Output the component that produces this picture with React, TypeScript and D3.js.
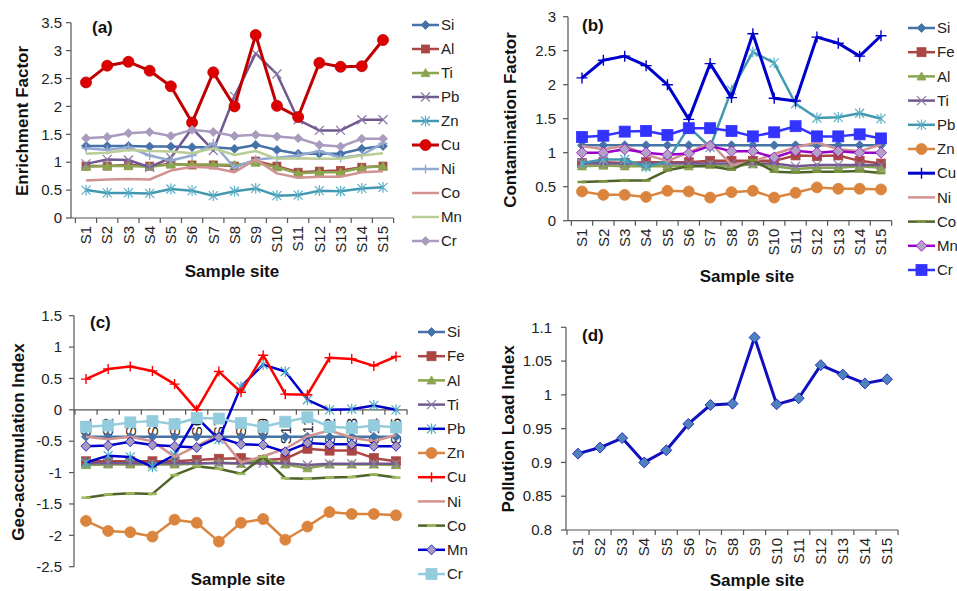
import React from "react";
import * as d3 from "d3";

// sample sites (x categories)
const sites = ["S1", "S2", "S3", "S4", "S5", "S6", "S7", "S8", "S9", "S10", "S11", "S12", "S13", "S14", "S15"];

// (a) Enrichment factor
const efSi = [1.29, 1.29, 1.29, 1.28, 1.28, 1.27, 1.27, 1.24, 1.31, 1.22, 1.15, 1.15, 1.15, 1.24, 1.29];
const efAl = [0.93, 0.93, 0.95, 0.93, 0.97, 0.95, 0.95, 0.93, 1.02, 0.93, 0.82, 0.84, 0.85, 0.91, 0.93];
const efTi = [0.92, 0.93, 0.93, 0.92, 0.96, 0.96, 0.96, 0.95, 0.99, 0.91, 0.8, 0.82, 0.82, 0.9, 0.93];
const efPb = [0.97, 1.05, 1.04, 0.91, 1.08, 1.61, 1.21, 2.18, 2.95, 2.58, 1.76, 1.57, 1.57, 1.76, 1.76];
const efZn = [0.5, 0.45, 0.45, 0.44, 0.52, 0.49, 0.4, 0.48, 0.53, 0.4, 0.41, 0.49, 0.48, 0.53, 0.55];
const efCu = [2.43, 2.73, 2.8, 2.64, 2.36, 1.71, 2.61, 2.0, 3.28, 2.01, 1.81, 2.78, 2.71, 2.72, 3.19];
const efNi = [1.25, 1.22, 1.27, 1.12, 1.03, 1.12, 1.34, 0.9, 1.05, 1.08, 1.12, 1.2, 1.08, 1.13, 1.34];
const efCo = [0.67, 0.69, 0.7, 0.69, 0.85, 0.92, 0.9, 0.82, 1.05, 0.8, 0.72, 0.74, 0.74, 0.82, 0.84];
const efMn = [1.15, 1.17, 1.22, 1.2, 1.19, 1.16, 1.25, 1.13, 1.2, 1.06, 1.07, 1.06, 1.06, 1.12, 1.16];
const efCr = [1.43, 1.45, 1.52, 1.54, 1.47, 1.58, 1.54, 1.47, 1.49, 1.46, 1.43, 1.31, 1.28, 1.42, 1.42];

// (b) Contamination factor
const cfSi = [1.11, 1.11, 1.11, 1.11, 1.11, 1.11, 1.11, 1.11, 1.11, 1.11, 1.11, 1.11, 1.11, 1.11, 1.11];
const cfFe = [0.85, 0.86, 0.85, 0.86, 0.86, 0.86, 0.88, 0.88, 0.88, 0.88, 0.96, 0.95, 0.96, 0.88, 0.84];
const cfAl = [0.8, 0.81, 0.8, 0.8, 0.8, 0.8, 0.82, 0.8, 0.83, 0.8, 0.76, 0.78, 0.78, 0.8, 0.78];
const cfTi = [0.84, 0.84, 0.84, 0.84, 0.84, 0.84, 0.84, 0.84, 0.84, 0.84, 0.8, 0.82, 0.82, 0.82, 0.82];
const cfPb = [0.85, 0.9, 0.9, 0.79, 0.88, 1.38, 1.08, 1.92, 2.48, 2.32, 1.72, 1.51, 1.52, 1.58, 1.5];
const cfZn = [0.43, 0.38, 0.38, 0.35, 0.44, 0.43, 0.34, 0.42, 0.44, 0.34, 0.41, 0.49, 0.47, 0.47, 0.46];
const cfCu = [2.1, 2.36, 2.42, 2.28, 2.0, 1.49, 2.31, 1.81, 2.75, 1.8, 1.76, 2.7, 2.61, 2.42, 2.72];
const cfNi = [1.1, 1.05, 1.1, 0.97, 0.88, 1.0, 1.15, 0.82, 0.87, 0.98, 1.08, 1.15, 1.05, 1.02, 1.12];
const cfCo = [0.57, 0.58, 0.59, 0.59, 0.74, 0.8, 0.8, 0.75, 0.89, 0.72, 0.71, 0.72, 0.72, 0.73, 0.7];
const cfMn = [1.0, 1.0, 1.05, 1.0, 0.97, 0.99, 1.1, 1.02, 1.02, 0.93, 1.03, 1.0, 1.02, 1.0, 1.0];
const cfCr = [1.23, 1.25, 1.31, 1.32, 1.26, 1.36, 1.36, 1.32, 1.24, 1.3, 1.39, 1.24, 1.24, 1.27, 1.21];

// (c) Geo-accumulation index
const igSi = [-0.43, -0.43, -0.43, -0.43, -0.43, -0.43, -0.43, -0.43, -0.43, -0.43, -0.43, -0.43, -0.43, -0.43, -0.43];
const igFe = [-0.82, -0.82, -0.82, -0.82, -0.82, -0.8, -0.78, -0.77, -0.8, -0.78, -0.62, -0.65, -0.65, -0.77, -0.82];
const igAl = [-0.88, -0.87, -0.87, -0.87, -0.87, -0.86, -0.84, -0.86, -0.78, -0.87, -0.93, -0.87, -0.87, -0.87, -0.88];
const igTi = [-0.85, -0.85, -0.85, -0.85, -0.85, -0.85, -0.85, -0.85, -0.85, -0.85, -0.88, -0.86, -0.86, -0.86, -0.86];
const igPb = [-0.84, -0.73, -0.75, -0.91, -0.72, -0.12, -0.47, 0.37, 0.72, 0.61, 0.16, 0.0, 0.01, 0.07, 0.0];
const igZn = [-1.77, -1.93, -1.95, -2.02, -1.75, -1.8, -2.1, -1.8, -1.74, -2.07, -1.86, -1.63, -1.66, -1.66, -1.68];
const igCu = [0.49, 0.65, 0.69, 0.62, 0.41, 0.0, 0.61, 0.28, 0.87, 0.25, 0.24, 0.83, 0.81, 0.7, 0.85];
const igNi = [-0.43, -0.47, -0.43, -0.5, -0.75, -0.58, -0.4, -0.84, -0.74, -0.62, -0.42, -0.33, -0.44, -0.5, -0.4];
const igCo = [-1.4, -1.35, -1.33, -1.34, -1.04, -0.9, -0.94, -1.02, -0.75, -1.09, -1.1, -1.08, -1.07, -1.03, -1.08];
const igMn = [-0.58, -0.57, -0.51, -0.56, -0.58, -0.6, -0.44, -0.55, -0.56, -0.67, -0.53, -0.55, -0.55, -0.58, -0.58];
const igCr = [-0.27, -0.25, -0.2, -0.18, -0.23, -0.13, -0.14, -0.21, -0.27, -0.19, -0.12, -0.27, -0.29, -0.25, -0.28];

// (d) Pollution load index
const pli = [0.913, 0.922, 0.936, 0.9, 0.918, 0.957, 0.985, 0.987, 1.085, 0.986, 0.995, 1.044, 1.03, 1.017, 1.023];

const FONT = "'Liberation Sans', Arial, sans-serif";

type Marker = "diamond" | "square" | "triangle" | "x" | "star" | "circle" | "plus" | "dash" | "none";

interface Series {
  name: string;
  values: number[];
  color: string;
  marker: Marker;
  fill?: string;
  size?: number;
  width?: number;
}

interface PanelCfg {
  tag: string;
  tagX: number;
  tagY: number;
  yTitle: string;
  yTitleX: number;
  yTitleY: number;
  xTitleX: number;
  xTitleY: number;
  axisX: number;
  yTop: number;
  yBot: number;
  domain: [number, number];
  step: number;
  firstX: number;
  lastX: number;
  crossAt: number;
  labelGap: number;
  series: Series[];
  legend?: { x: number; y: number; dy: number };
}

function MarkerShape(props: { type: Marker; x: number; y: number; color: string; fill?: string; size?: number }) {
  const { type, x, y, color } = props;
  const fill = props.fill || color;
  const s = props.size || 4.5;
  const t = `translate(${x},${y})`;
  switch (type) {
    case "diamond":
      return <path transform={t} d={`M0,${-s}L${s},0L0,${s}L${-s},0Z`} fill={fill} stroke={color} strokeWidth={0.8} />;
    case "square":
      return <rect x={x - s} y={y - s} width={2 * s} height={2 * s} fill={fill} stroke={color} strokeWidth={0.8} />;
    case "triangle":
      return <path transform={t} d={`M0,${-s}L${s},${s * 0.8}L${-s},${s * 0.8}Z`} fill={fill} stroke={color} strokeWidth={0.8} />;
    case "circle":
      return <circle cx={x} cy={y} r={s} fill={fill} stroke={color} strokeWidth={0.8} />;
    case "x":
      return <path transform={t} d={`M${-s},${-s}L${s},${s}M${-s},${s}L${s},${-s}`} stroke={fill} strokeWidth={1.2} fill="none" />;
    case "star":
      return <path transform={t} d={`M${-s},${-s}L${s},${s}M${-s},${s}L${s},${-s}M0,${-s * 1.2}L0,${s * 1.2}`} stroke={fill} strokeWidth={1.2} fill="none" />;
    case "plus":
      return <path transform={t} d={`M${-s},0L${s},0M0,${-s}L0,${s}`} stroke={fill} strokeWidth={1.4} fill="none" />;
    case "dash":
      return <path transform={t} d={`M${-s},0L${s},0`} stroke={fill} strokeWidth={2.5} fill="none" />;
    default:
      return null;
  }
}

function Panel({ cfg }: { cfg: PanelCfg }) {
  const x = d3.scalePoint<string>().domain(sites).range([cfg.firstX, cfg.lastX]);
  const y = d3.scaleLinear().domain(cfg.domain).range([cfg.yBot, cfg.yTop]);
  const half = x.step() / 2;
  const n = Math.round((cfg.domain[1] - cfg.domain[0]) / cfg.step);
  const ticks = d3.range(n + 1).map((i) => +(cfg.domain[0] + i * cfg.step).toFixed(3));
  const axisY = y(cfg.crossAt);
  const right = cfg.lastX + half;
  const bounds = sites.map((s) => (x(s) as number) + half);
  bounds.unshift(cfg.firstX - half);

  const line = d3
    .line<number>()
    .x((_, i) => x(sites[i]) as number)
    .y((d) => y(d));

  return (
    <g fontFamily={FONT}>
      {/* y axis */}
      <line x1={cfg.axisX} x2={cfg.axisX} y1={cfg.yTop} y2={cfg.yBot} stroke="#555" strokeWidth={1.2} />
      {ticks.map((t) => (
        <g key={t}>
          <line x1={cfg.axisX - 5} x2={cfg.axisX} y1={y(t)} y2={y(t)} stroke="#555" strokeWidth={1.2} />
          <text x={cfg.axisX - cfg.labelGap} y={y(t)} dy="0.35em" textAnchor="end" fontSize={15} fill="#222">
            {String(t)}
          </text>
        </g>
      ))}
      {/* x axis */}
      <line x1={cfg.axisX} x2={right} y1={axisY} y2={axisY} stroke="#555" strokeWidth={1.2} />
      {bounds.map((b, i) => (
        <line key={i} x1={b} x2={b} y1={axisY} y2={axisY + 5} stroke="#555" strokeWidth={1.2} />
      ))}
      {sites.map((s) => (
        <text
          key={s}
          transform={`translate(${x(s)},${axisY + 8}) rotate(-90)`}
          dy="0.35em"
          textAnchor="end"
          fontSize={15}
          fill="#222"
        >
          {s}
        </text>
      ))}
      {/* series */}
      {cfg.series.map((se) => (
        <g key={se.name}>
          <path d={line(se.values) || ""} fill="none" stroke={se.color} strokeWidth={se.width || 2.5} strokeLinejoin="round" />
          {se.values.map((v, i) => (
            <MarkerShape key={i} type={se.marker} x={x(sites[i]) as number} y={y(v)} color={se.color} fill={se.fill} size={se.size} />
          ))}
        </g>
      ))}
      {/* titles */}
      <text x={cfg.tagX} y={cfg.tagY} fontSize={17} fontWeight="bold" fill="#111">
        {cfg.tag}
      </text>
      <text
        transform={`translate(${cfg.yTitleX},${cfg.yTitleY}) rotate(-90)`}
        dy="0.35em"
        textAnchor="middle"
        fontSize={17}
        fontWeight="bold"
        fill="#111"
      >
        {cfg.yTitle}
      </text>
      <text x={cfg.xTitleX} y={cfg.xTitleY} textAnchor="middle" fontSize={17} fontWeight="bold" fill="#111">
        Sample site
      </text>
      {/* legend */}
      {cfg.legend &&
        cfg.series.map((se, i) => {
          const lg = cfg.legend!;
          const ly = lg.y + i * lg.dy;
          return (
            <g key={"lg" + se.name}>
              <line x1={lg.x} x2={lg.x + 27} y1={ly} y2={ly} stroke={se.color} strokeWidth={se.width || 2.5} />
              <MarkerShape type={se.marker} x={lg.x + 13.5} y={ly} color={se.color} fill={se.fill} size={se.size} />
              <text x={lg.x + 29} y={ly} dy="0.35em" fontSize={15} fill="#222">
                {se.name}
              </text>
            </g>
          );
        })}
    </g>
  );
}

const panelA: PanelCfg = {
  tag: "(a)", tagX: 92, tagY: 33,
  yTitle: "Enrichment  Factor", yTitleX: 22, yTitleY: 121,
  xTitleX: 232, xTitleY: 277,
  axisX: 71, yTop: 22.7, yBot: 218, domain: [0, 3.5], step: 0.5,
  firstX: 86, lastX: 383, crossAt: 0, labelGap: 9,
  legend: { x: 412, y: 25, dy: 24 },
  series: [
    { name: "Si", values: efSi, color: "#4572A7", marker: "diamond" },
    { name: "Al", values: efAl, color: "#AA4643", marker: "square", size: 4 },
    { name: "Ti", values: efTi, color: "#89A54E", marker: "triangle" },
    { name: "Pb", values: efPb, color: "#71588F", marker: "x", fill: "#8a78a8" },
    { name: "Zn", values: efZn, color: "#4198AF", marker: "star", fill: "#5bb0c8" },
    { name: "Cu", values: efCu, color: "#C00000", marker: "circle", fill: "#DD0000", size: 5.5, width: 3 },
    { name: "Ni", values: efNi, color: "#93A9CF", marker: "plus" },
    { name: "Co", values: efCo, color: "#D19392", marker: "none" },
    { name: "Mn", values: efMn, color: "#B9CD96", marker: "none" },
    { name: "Cr", values: efCr, color: "#A99BBD", marker: "diamond" },
  ],
};

const panelB: PanelCfg = {
  tag: "(b)", tagX: 582, tagY: 31,
  yTitle: "Contamination Factor", yTitleX: 510, yTitleY: 120,
  xTitleX: 747, xTitleY: 282,
  axisX: 568, yTop: 16.7, yBot: 220.7, domain: [0, 3], step: 0.5,
  firstX: 582, lastX: 881, crossAt: 0, labelGap: 12,
  legend: { x: 908, y: 28, dy: 24.2 },
  series: [
    { name: "Si", values: cfSi, color: "#4572A7", marker: "diamond" },
    { name: "Fe", values: cfFe, color: "#AA4643", marker: "square", size: 4.5 },
    { name: "Al", values: cfAl, color: "#89A54E", marker: "triangle" },
    { name: "Ti", values: cfTi, color: "#71588F", marker: "x", fill: "#8a78a8" },
    { name: "Pb", values: cfPb, color: "#4198AF", marker: "star", fill: "#5bb0c8" },
    { name: "Zn", values: cfZn, color: "#DB843D", marker: "circle", size: 5.5 },
    { name: "Cu", values: cfCu, color: "#0000CC", marker: "plus", width: 3, size: 5.5 },
    { name: "Ni", values: cfNi, color: "#D19392", marker: "none" },
    { name: "Co", values: cfCo, color: "#4F6228", marker: "dash", fill: "#77933C" },
    { name: "Mn", values: cfMn, color: "#9900CC", marker: "diamond", fill: "#B3A2C7", size: 5.5 },
    { name: "Cr", values: cfCr, color: "#3333FF", marker: "square", size: 5.5 },
  ],
};

const panelC: PanelCfg = {
  tag: "(c)", tagX: 90, tagY: 328,
  yTitle: "Geo-accumulation  Index", yTitleX: 18, yTitleY: 442,
  xTitleX: 238, xTitleY: 585,
  axisX: 74, yTop: 315.7, yBot: 566.7, domain: [-2.5, 1.5], step: 0.5,
  firstX: 86, lastX: 396, crossAt: 0, labelGap: 12,
  legend: { x: 418, y: 332, dy: 24.2 },
  series: [
    { name: "Si", values: igSi, color: "#4572A7", marker: "diamond" },
    { name: "Fe", values: igFe, color: "#AA4643", marker: "square", size: 4.5 },
    { name: "Al", values: igAl, color: "#89A54E", marker: "triangle" },
    { name: "Ti", values: igTi, color: "#71588F", marker: "x", fill: "#8a78a8" },
    { name: "Pb", values: igPb, color: "#0000CC", marker: "star", fill: "#4BACC6" },
    { name: "Zn", values: igZn, color: "#DB843D", marker: "circle", size: 5.5 },
    { name: "Cu", values: igCu, color: "#FF0000", marker: "plus", size: 5 },
    { name: "Ni", values: igNi, color: "#D19392", marker: "none" },
    { name: "Co", values: igCo, color: "#4F6228", marker: "dash", fill: "#9BBB59" },
    { name: "Mn", values: igMn, color: "#0000CC", marker: "diamond", fill: "#A99BBD", size: 5 },
    { name: "Cr", values: igCr, color: "#93CDDD", marker: "square", size: 5.5 },
  ],
};

const panelD: PanelCfg = {
  tag: "(d)", tagX: 582, tagY: 341,
  yTitle: "Pollution Load Index", yTitleX: 508, yTitleY: 429,
  xTitleX: 757, xTitleY: 586,
  axisX: 566, yTop: 327.3, yBot: 530, domain: [0.8, 1.1], step: 0.05,
  firstX: 578, lastX: 887, crossAt: 0.8, labelGap: 14,
  series: [{ name: "PLI", values: pli, color: "#1010C0", marker: "diamond", fill: "#4F81BD", size: 5.5, width: 3 }],
};

export default function App() {
  return (
    <svg width={957} height={591} style={{ position: "absolute", left: 0, top: 0, background: "#fff" }}>
      <rect width={957} height={591} fill="#fff" />
      <Panel cfg={panelA} />
      <Panel cfg={panelB} />
      <Panel cfg={panelC} />
      <Panel cfg={panelD} />
    </svg>
  );
}
